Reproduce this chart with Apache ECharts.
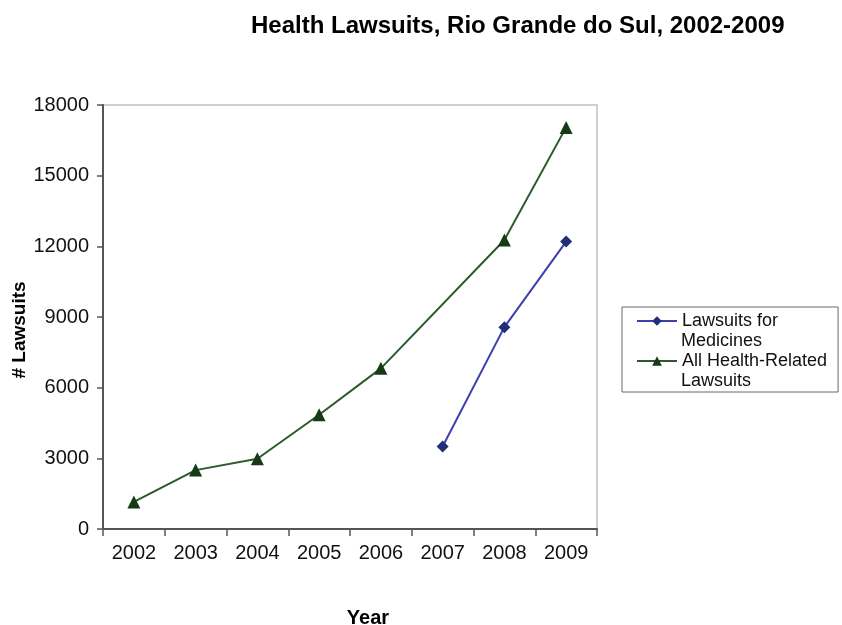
<!DOCTYPE html>
<html>
<head>
<meta charset="utf-8">
<script src="https://cdn.jsdelivr.net/npm/echarts@6/dist/echarts.min.js"></script>
<style>
  html, body { margin: 0; padding: 0; background: #fff; }
  #chart { width: 842px; height: 625px; }
</style>
</head>
<body>
<div id="chart"></div>
<script>
// data
const years = ["2002", "2003", "2004", "2005", "2006", "2007", "2008", "2009"];
const medicines = [null, null, null, null, null, 3500, 8570, 12200];
const allHealth = [1150, 2500, 2980, 4850, 6820, null, 12270, 17050];
const seriesNames = ["Lawsuits for Medicines", "All Health-Related Lawsuits"];

const chart = echarts.init(document.getElementById("chart"));

const font = "Liberation Sans, Arial, sans-serif";
const legendFont = 18;

const option = {
  backgroundColor: "#fff",
  animation: false,
  title: {
    text: "Health Lawsuits, Rio Grande do Sul, 2002-2009",
    left: 246,
    top: 9,
    textStyle: { fontFamily: font, fontSize: 24, fontWeight: "bold", color: "#000" },
  },
  grid: {
    left: 103,
    right: 245,
    top: 105,
    bottom: 96,
    outerBoundsMode: "none",
    containLabel: false,
    show: true,
    borderColor: "#cfcfcf",
    borderWidth: 2,
  },
  legend: {
    orient: "vertical",
    left: 622,
    top: 307,
    padding: [4, 11, 21, 14],
    itemGap: 20,
    itemWidth: 40,
    itemHeight: 12,
    borderColor: "#6b6b6b",
    borderWidth: 1,
    data: seriesNames,
    // the second line of each name is drawn below as plain text
    formatter: function (name) {
      return name === seriesNames[0] ? "Lawsuits for" : "All Health-Related";
    },
    textStyle: { fontFamily: font, fontSize: legendFont, color: "#111", lineHeight: 20 },
  },
  graphic: [
    {
      type: "text",
      left: 681,
      top: 332,
      style: { text: "Medicines", font: legendFont + "px " + font, fill: "#111" },
    },
    {
      type: "text",
      left: 681,
      top: 372,
      style: { text: "Lawsuits", font: legendFont + "px " + font, fill: "#111" },
    },
  ],
  xAxis: {
    type: "category",
    data: years,
    boundaryGap: true,
    name: "Year",
    nameLocation: "middle",
    nameGap: 79,
    nameMoveOverlap: false,
    nameTextStyle: { fontFamily: font, fontSize: 20, fontWeight: "bold", color: "#000", padding: [0, 0, 0, 36] },
    axisLine: { lineStyle: { color: "#555", width: 2 } },
    axisTick: { show: true, length: 7, lineStyle: { color: "#555", width: 1.5 } },
    axisLabel: { fontFamily: font, fontSize: 20, color: "#111", margin: 14 },
  },
  yAxis: {
    type: "value",
    min: 0,
    max: 18000,
    interval: 3000,
    name: "# Lawsuits",
    nameLocation: "middle",
    nameGap: 74,
    nameMoveOverlap: false,
    nameRotate: 90,
    nameTextStyle: { fontFamily: font, fontSize: 19, fontWeight: "bold", color: "#000", padding: [0, 26, 0, 0] },
    axisLine: { show: true, lineStyle: { color: "#555", width: 2 } },
    axisTick: { show: true, length: 6, lineStyle: { color: "#555", width: 1.5 } },
    axisLabel: {
      fontFamily: font,
      fontSize: 20,
      color: "#111",
      margin: 14,
      formatter: function (v) { return String(v); },
    },
    splitLine: { show: false },
  },
  series: [
    {
      name: seriesNames[0],
      type: "line",
      data: medicines,
      symbol: "diamond",
      symbolSize: 12,
      lineStyle: { color: "#3b3fb0", width: 2 },
      itemStyle: { color: "#1f2f7a" },
    },
    {
      name: seriesNames[1],
      type: "line",
      data: allHealth,
      connectNulls: true,
      symbol: "triangle",
      symbolSize: 13,
      lineStyle: { color: "#2c5a2c", width: 2 },
      itemStyle: { color: "#163a16" },
    },
  ],
};

chart.setOption(option);
</script>
</body>
</html>
